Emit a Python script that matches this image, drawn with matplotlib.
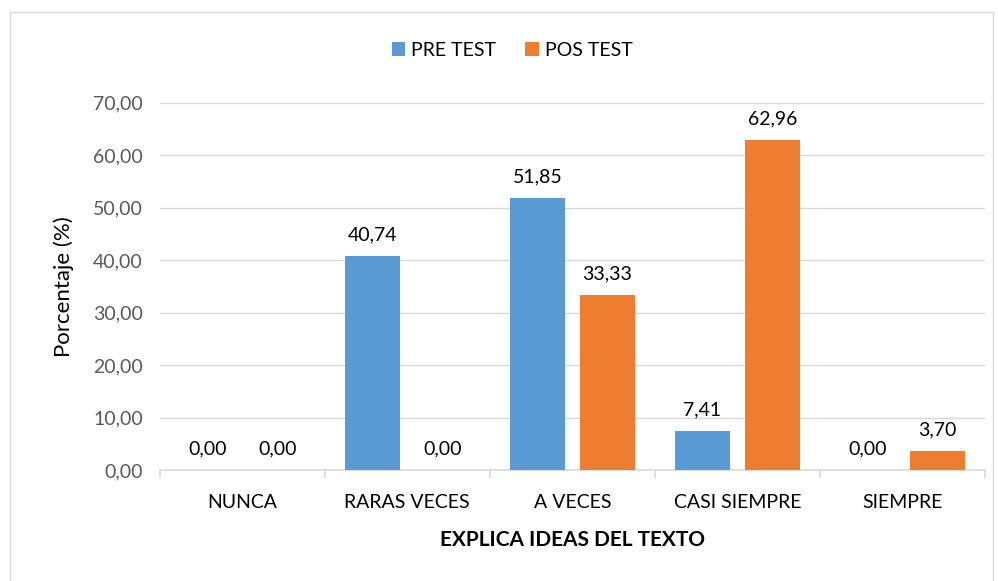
import numpy as np
import matplotlib.pyplot as plt
from matplotlib.patches import Rectangle

plt.rcParams['font.family'] = ['Lato', 'DejaVu Sans']

categorias = ['NUNCA', 'RARAS VECES', 'A VECES', 'CASI SIEMPRE', 'SIEMPRE']
pre_test = [0.00, 40.74, 51.85, 7.41, 0.00]
pos_test = [0.00, 0.00, 33.33, 62.96, 3.70]
series = ['PRE TEST', 'POS TEST']
colores = ['#5b9bd5', '#ed7d31']
yticks = [0, 10, 20, 30, 40, 50, 60, 70]

fig = plt.figure(figsize=(9.98, 5.81), dpi=100)
ax = fig.add_axes([0.160, 0.191, 0.827, 0.632])

# chart border
fig.patches.append(Rectangle((10 / 998, -0.05), 983 / 998, 1 - 12 / 581 + 0.05,
                             transform=fig.transFigure, fill=False,
                             edgecolor='#d9d9d9', linewidth=1))

x = np.arange(len(categorias))
w = 0.333
off = 0.212
for vals, col, name, d in zip([pre_test, pos_test], colores, series, [-off, off]):
    bars = ax.bar(x + d, vals, w, color=col, label=name, zorder=3)
    for b, v in zip(bars, vals):
        ax.annotate(f'{v:.2f}'.replace('.', ','), (b.get_x() + b.get_width() / 2, v),
                    xytext=(0, 9), textcoords='offset points', ha='center', va='bottom',
                    fontsize=14, color='#000000')

ax.set_xlim(-0.5, len(categorias) - 0.5)
ax.set_ylim(0, 70)
ax.set_yticks(yticks)
ax.set_yticklabels([f'{v:.2f}'.replace('.', ',') for v in yticks], fontsize=14, color='#595959')
ax.yaxis.grid(True, color='#d9d9d9', linewidth=1, zorder=0)
ax.tick_params(axis='y', length=0, pad=12)

ax.set_xticks(x)
ax.set_xticklabels(categorias, fontsize=14, color='#000000')
ax.set_xticks(np.arange(-0.5, len(categorias)), minor=True)
ax.tick_params(axis='x', which='major', length=0, pad=17)
ax.tick_params(axis='x', which='minor', length=6, color='#d9d9d9', width=1.2)

for s in ['top', 'right', 'left']:
    ax.spines[s].set_visible(False)
ax.spines['bottom'].set_color('#d9d9d9')
ax.spines['bottom'].set_linewidth(1.2)

ax.set_ylabel('Porcentaje (%)', fontsize=16, color='#000000', labelpad=14)
ax.set_xlabel('EXPLICA IDEAS DEL TEXTO', fontsize=15, fontweight='bold', labelpad=14)

fig.legend(loc='center', bbox_to_anchor=(0.513, 1 - 50 / 581), ncol=2, frameon=False,
           fontsize=14, handlelength=0.7, handleheight=0.7, handletextpad=0.3,
           columnspacing=1.5)

fig.savefig('out.png', dpi=100)
